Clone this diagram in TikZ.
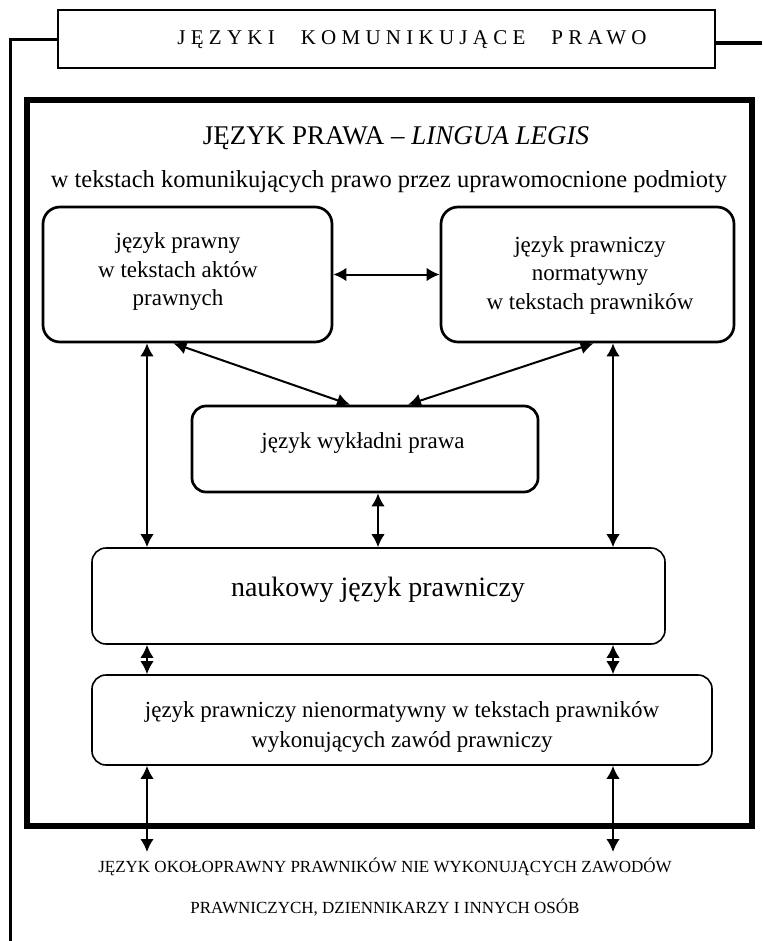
\documentclass[tikz,border=0pt]{standalone}
\usepackage{fontspec}
\setmainfont{Liberation Serif}
\usetikzlibrary{arrows.meta}
\begin{document}
\begin{tikzpicture}[x=1pt,y=-1pt,
  headbox/.style={draw, line width=1.3pt, inner sep=0pt},
  frame/.style={draw, line width=5.5pt, inner sep=0pt},
  heavybox/.style={draw, line width=2.7pt, rounded corners=17pt, inner sep=0pt},
  lightbox/.style={draw, line width=1.6pt, rounded corners=14pt, inner sep=0pt},
  dblarrow/.style={{Latex[length=13pt,width=13.5pt]}-{Latex[length=13pt,width=13.5pt]}, line width=2pt},
  boxtext/.style={font=\fontsize{23}{28.5}\selectfont, align=center, inner sep=0pt},
  side/.style={line width=3pt},
]
\useasboundingbox (0,0) rectangle (762,941);

% heading and the lines running off it
\node[headbox, minimum width=657pt, minimum height=58pt] (head) at (386.5,39) {};
\node[inner sep=0pt, font=\fontsize{21}{24}\selectfont\addfontfeatures{LetterSpace=25}] at (412,40)
  {JĘZYKI\hspace{26pt}KOMUNIKUJĄCE\hspace{26pt}PRAWO};
\coordinate (ltop) at (10,40);
\coordinate (lbot) at (10,941);
\coordinate (rend) at (762,43);
\draw[side] (head.west |- ltop) -- (ltop) -- (lbot);
\draw[side, line width=3.5pt] (head.east |- rend) -- (rend);

% outer frame of lingua legis
\node[frame, minimum width=725pt, minimum height=726pt] (legis) at (389.5,463) {};
\node[inner sep=0pt, font=\fontsize{27}{32}\selectfont] (title) at (396,138)
  {JĘZYK PRAWA – \textit{LINGUA LEGIS}};
\node[inner sep=0pt, font=\fontsize{24.5}{28}\selectfont] (sub) at (389,182)
  {w tekstach komunikujących prawo przez uprawomocnione podmioty};

% language boxes
\node[heavybox, minimum width=289pt, minimum height=135pt] (b1) at (187.5,274.5) {};
\node[boxtext] at (178,272) {język prawny\\w tekstach aktów\\prawnych};
\node[heavybox, minimum width=293pt, minimum height=135pt] (b2) at (587.5,274.5) {};
\node[boxtext] at (590,275) {język prawniczy\\normatywny\\w tekstach prawników};
\node[heavybox, rounded corners=14pt, minimum width=346pt, minimum height=86pt] (b3) at (365,449) {};
\node[boxtext] at (363,443) {język wykładni prawa};
\node[lightbox, minimum width=573pt, minimum height=96pt] (b4) at (378.5,596) {};
\node[inner sep=0pt, font=\fontsize{28}{32}\selectfont] at (378,590) {naukowy język prawniczy};
\node[lightbox, minimum width=620pt, minimum height=90pt] (b5) at (402,720) {};
\node[boxtext, font=\fontsize{23}{30}\selectfont] at (402,727)
  {język prawniczy nienormatywny w tekstach prawników\\wykonujących zawód prawniczy};
\node[inner sep=0pt, align=center, font=\fontsize{17}{41}\selectfont] (outer) at (385,887)
  {JĘZYK OKOŁOPRAWNY PRAWNIKÓW NIE WYKONUJĄCYCH ZAWODÓW\\PRAWNICZYCH, DZIENNIKARZY I INNYCH OSÓB};

% columns of the vertical connectors
\coordinate (colL) at (147,0);
\coordinate (colM) at (378,0);
\coordinate (colR) at (613,0);
\coordinate (low) at (0,852);

\draw[dblarrow] (b1) -- (b2);
\draw[dblarrow] ([xshift=-14pt]b1.south) -- ([xshift=-15pt]b3.north);
\draw[dblarrow] ([xshift=6pt]b2.south) -- ([xshift=43pt]b3.north);
\draw[dblarrow] (b1.south -| colL) -- (b4.north -| colL);
\draw[dblarrow] (b2.south -| colR) -- (b4.north -| colR);
\draw[dblarrow] (b3.south -| colM) -- (b4.north -| colM);
\draw[dblarrow] (b4.south -| colL) -- (b5.north -| colL);
\draw[dblarrow] (b4.south -| colR) -- (b5.north -| colR);
\draw[dblarrow] (b5.south -| colL) -- (low -| colL);
\draw[dblarrow] (b5.south -| colR) -- (low -| colR);
\end{tikzpicture}
\end{document}
